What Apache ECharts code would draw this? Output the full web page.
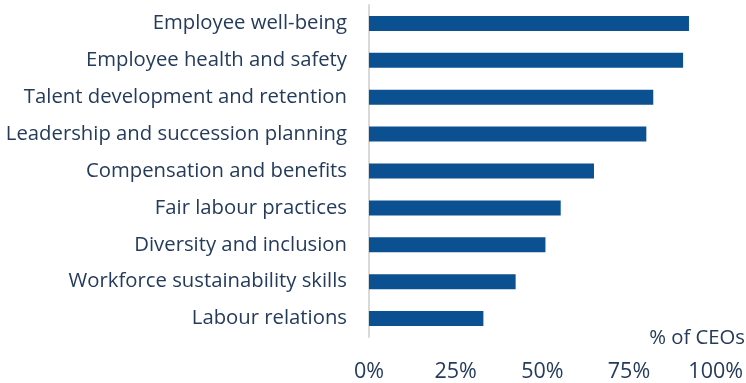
<!DOCTYPE html>
<html>
<head>
<meta charset="utf-8">
<script src="https://cdn.jsdelivr.net/npm/echarts@6/dist/echarts.min.js"></script>
<style>
  html, body { margin: 0; padding: 0; background: #ffffff; }
  #chart { width: 746px; height: 383px; }
</style>
</head>
<body>
<div id="chart"></div>
<script>
// Workforce priorities, share of CEOs (%)
const categories = [
  'Employee well-being',
  'Employee health and safety',
  'Talent development and retention',
  'Leadership and succession planning',
  'Compensation and benefits',
  'Fair labour practices',
  'Diversity and inclusion',
  'Workforce sustainability skills',
  'Labour relations'
];
const shareOfCEOs = [92.3, 90.6, 82.0, 80.0, 64.9, 55.3, 50.9, 42.3, 33.0];
const xTicks = [0, 25, 50, 75, 100];

const textColor = '#243b5c';
const chart = echarts.init(document.getElementById('chart'), null, { renderer: 'canvas' });

chart.setOption({
  animation: false,
  grid: { left: 369, right: 29, top: 5, bottom: 45, containLabel: false },
  xAxis: {
    type: 'value',
    min: xTicks[0],
    max: xTicks[xTicks.length - 1],
    interval: 25,
    axisLine: { show: false },
    axisTick: { show: false },
    splitLine: { show: false },
    axisLabel: {
      margin: 24,
      fontFamily: 'Open Sans',
      fontSize: 21.5,
      color: textColor,
      formatter: v => v + '%'
    }
  },
  yAxis: {
    type: 'category',
    data: categories,
    inverse: true,
    axisLine: { show: true, lineStyle: { color: '#d9d9d9', width: 2 } },
    axisTick: { show: false },
    axisLabel: {
      margin: 22,
      fontFamily: 'Open Sans',
      fontSize: 20.3,
      color: textColor
    }
  },
  graphic: [{
    type: 'text',
    right: 1,
    top: 328,
    style: {
      text: '% of CEOs',
      fontFamily: 'Open Sans',
      fontSize: 20.3,
      fill: textColor
    }
  }],
  series: [{
    type: 'bar',
    data: shareOfCEOs,
    barWidth: 15,
    itemStyle: { color: '#0b5192' },
    silent: true
  }]
});
</script>
</body>
</html>
